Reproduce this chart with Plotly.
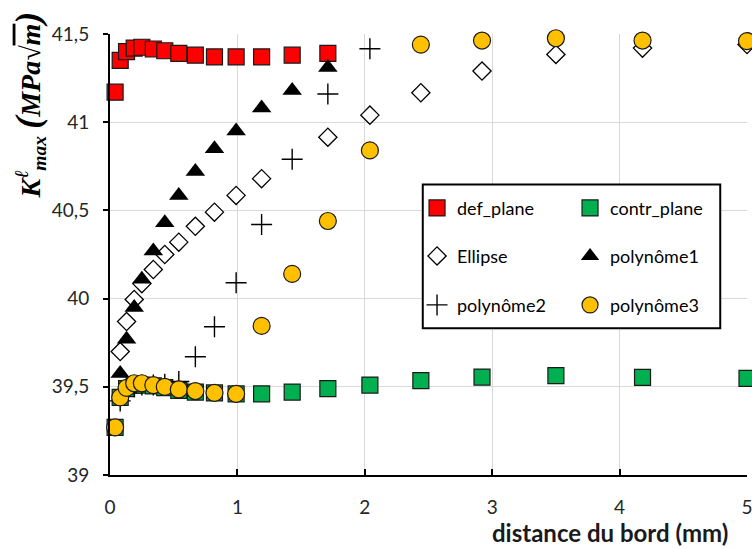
import plotly.graph_objects as go

x_all = [0.04, 0.08, 0.13, 0.19, 0.25, 0.34, 0.43, 0.54, 0.67, 0.82, 0.99, 1.19, 1.43, 1.71, 2.04, 2.44, 2.92, 3.5, 4.18, 5.0]

def_plane_x = x_all[:14]
def_plane_y = [41.17, 41.35, 41.40, 41.42, 41.425, 41.415, 41.405, 41.39, 41.38, 41.37, 41.37, 41.37, 41.38, 41.39]

contr_plane_x = x_all
contr_plane_y = [39.27, 39.44, 39.49, 39.51, 39.51, 39.505, 39.495, 39.48, 39.47, 39.465, 39.46, 39.46, 39.47, 39.49,
                 39.51, 39.535, 39.555, 39.563, 39.553, 39.548]

ellipse_x = x_all[1:12] + x_all[13:]
ellipse_y = [39.70, 39.87, 39.995, 40.085, 40.165, 40.25, 40.32, 40.41, 40.49, 40.585, 40.68, 40.915,
             41.04, 41.167, 41.29, 41.384, 41.42, 41.44]

poly1_x = x_all[1:14]
poly1_y = [39.576, 39.77, 39.95, 40.11, 40.27, 40.43, 40.585, 40.72, 40.85, 40.95, 41.08, 41.18, 41.31]

poly2_x = x_all[1:15]
poly2_y = [39.42, 39.47, 39.50, 39.51, 39.51, 39.515, 39.53, 39.67, 39.84, 40.09, 40.42, 40.79, 41.16, 41.416]

poly3_x = x_all
poly3_y = [39.27, 39.44, 39.494, 39.52, 39.52, 39.51, 39.50, 39.485, 39.476, 39.466, 39.46, 39.845, 40.14, 40.44,
           40.84, 41.44, 41.463, 41.476, 41.463, 41.46]

y_ticks = [39, 39.5, 40, 40.5, 41, 41.5]
x_ticks = [0, 1, 2, 3, 4, 5]

fig = go.Figure()

common = dict(mode="markers", cliponaxis=False)
fig.add_trace(go.Scatter(x=contr_plane_x, y=contr_plane_y, name="contr_plane", legend="legend",
                         marker=dict(symbol="square", size=16, color="#00b050", line=dict(color="#1a1a1a", width=1.2)), **common))
fig.add_trace(go.Scatter(x=def_plane_x, y=def_plane_y, name="def_plane", legend="legend",
                         marker=dict(symbol="square", size=16, color="#ff0000", line=dict(color="#1a1a1a", width=1.2)), **common))
fig.add_trace(go.Scatter(x=ellipse_x, y=ellipse_y, name="Ellipse", legend="legend2",
                         marker=dict(symbol="diamond", size=14, color="white", line=dict(color="black", width=1.3)), **common))
fig.add_trace(go.Scatter(x=poly1_x, y=poly1_y, name="polynôme1", legend="legend2",
                         marker=dict(symbol="triangle-up", size=17, color="black", line=dict(color="black", width=0)), **common))
fig.add_trace(go.Scatter(x=poly2_x, y=poly2_y, name="polynôme2", legend="legend3",
                         marker=dict(symbol="cross-thin", size=15, color="black", line=dict(color="black", width=1.4)), **common))
fig.add_trace(go.Scatter(x=poly3_x, y=poly3_y, name="polynôme3", legend="legend3",
                         marker=dict(symbol="circle", size=17, color="#ffc000", line=dict(color="#1a1a1a", width=1.2)), **common))

leg_common = dict(orientation="h", xanchor="left", yanchor="middle", x=0.482,
                  entrywidth=108, entrywidthmode="pixels", itemwidth=30,
                  bgcolor="rgba(0,0,0,0)", borderwidth=0,
                  font=dict(family="Lato", size=18, color="black"))

fig.update_layout(
    width=752, height=549,
    margin=dict(l=110, r=4.5, t=33.5, b=74, autoexpand=False),
    paper_bgcolor="white", plot_bgcolor="white",
    separators=", ",
    showlegend=True,
    legend=dict(y=0.605, traceorder="reversed", **leg_common),
    legend2=dict(y=0.496, traceorder="normal", **leg_common),
    legend3=dict(y=0.385, traceorder="normal", **leg_common),
    xaxis=dict(range=[0, 5], tickvals=x_ticks, showgrid=True, gridcolor="#d9d9d9", gridwidth=1,
               zeroline=False, showline=True, linecolor="black", linewidth=2,
               ticks="inside", ticklen=6, tickcolor="black", tickwidth=1.5,
               ticklabelstandoff=14, automargin=False, ticklabeloverflow="allow",
               tickfont=dict(family="Lato", size=19, color="#262626")),
    yaxis=dict(range=[39, 41.5], tickvals=y_ticks, showgrid=True, gridcolor="#d9d9d9", gridwidth=1,
               zeroline=False, showline=True, linecolor="black", linewidth=2,
               ticks="outside", ticklen=5, tickcolor="black", tickwidth=1.5,
               ticklabelstandoff=10, tickformat=".1~f", automargin=False,
               tickfont=dict(family="Lato", size=19, color="#262626")),
    shapes=[dict(type="rect", xref="paper", yref="paper", x0=0.491, x1=0.958, y0=0.333, y1=0.659,
                 line=dict(color="black", width=2), fillcolor="white", layer="above")],
    annotations=[
        dict(text="<b>distance du bord (mm)</b>", xref="paper", yref="paper", x=0.785, y=-0.131,
             showarrow=False, font=dict(family="Lato", size=24, color="#1a1a1a"), xanchor="center", yanchor="middle"),
        dict(text="<b><i>K</i></b><sup><i>ℓ</i></sup><sub><b><i>max</i></b></sub>"
                  "<b><i> <span style='font-size:36px'>(</span>MPa√<span style='text-decoration:overline'>m</span><span style='font-size:36px'>)</span></i></b>",
             xref="paper", yref="paper", x=-0.127, y=0.838, textangle=-90,
             showarrow=False, font=dict(family="Liberation Serif", size=28, color="black"),
             xanchor="center", yanchor="middle"),
    ],
)

fig.write_html("out.html", config={"displayModeBar": False},
               post_script="document.body.style.margin='0px';document.body.style.overflow='hidden';")
